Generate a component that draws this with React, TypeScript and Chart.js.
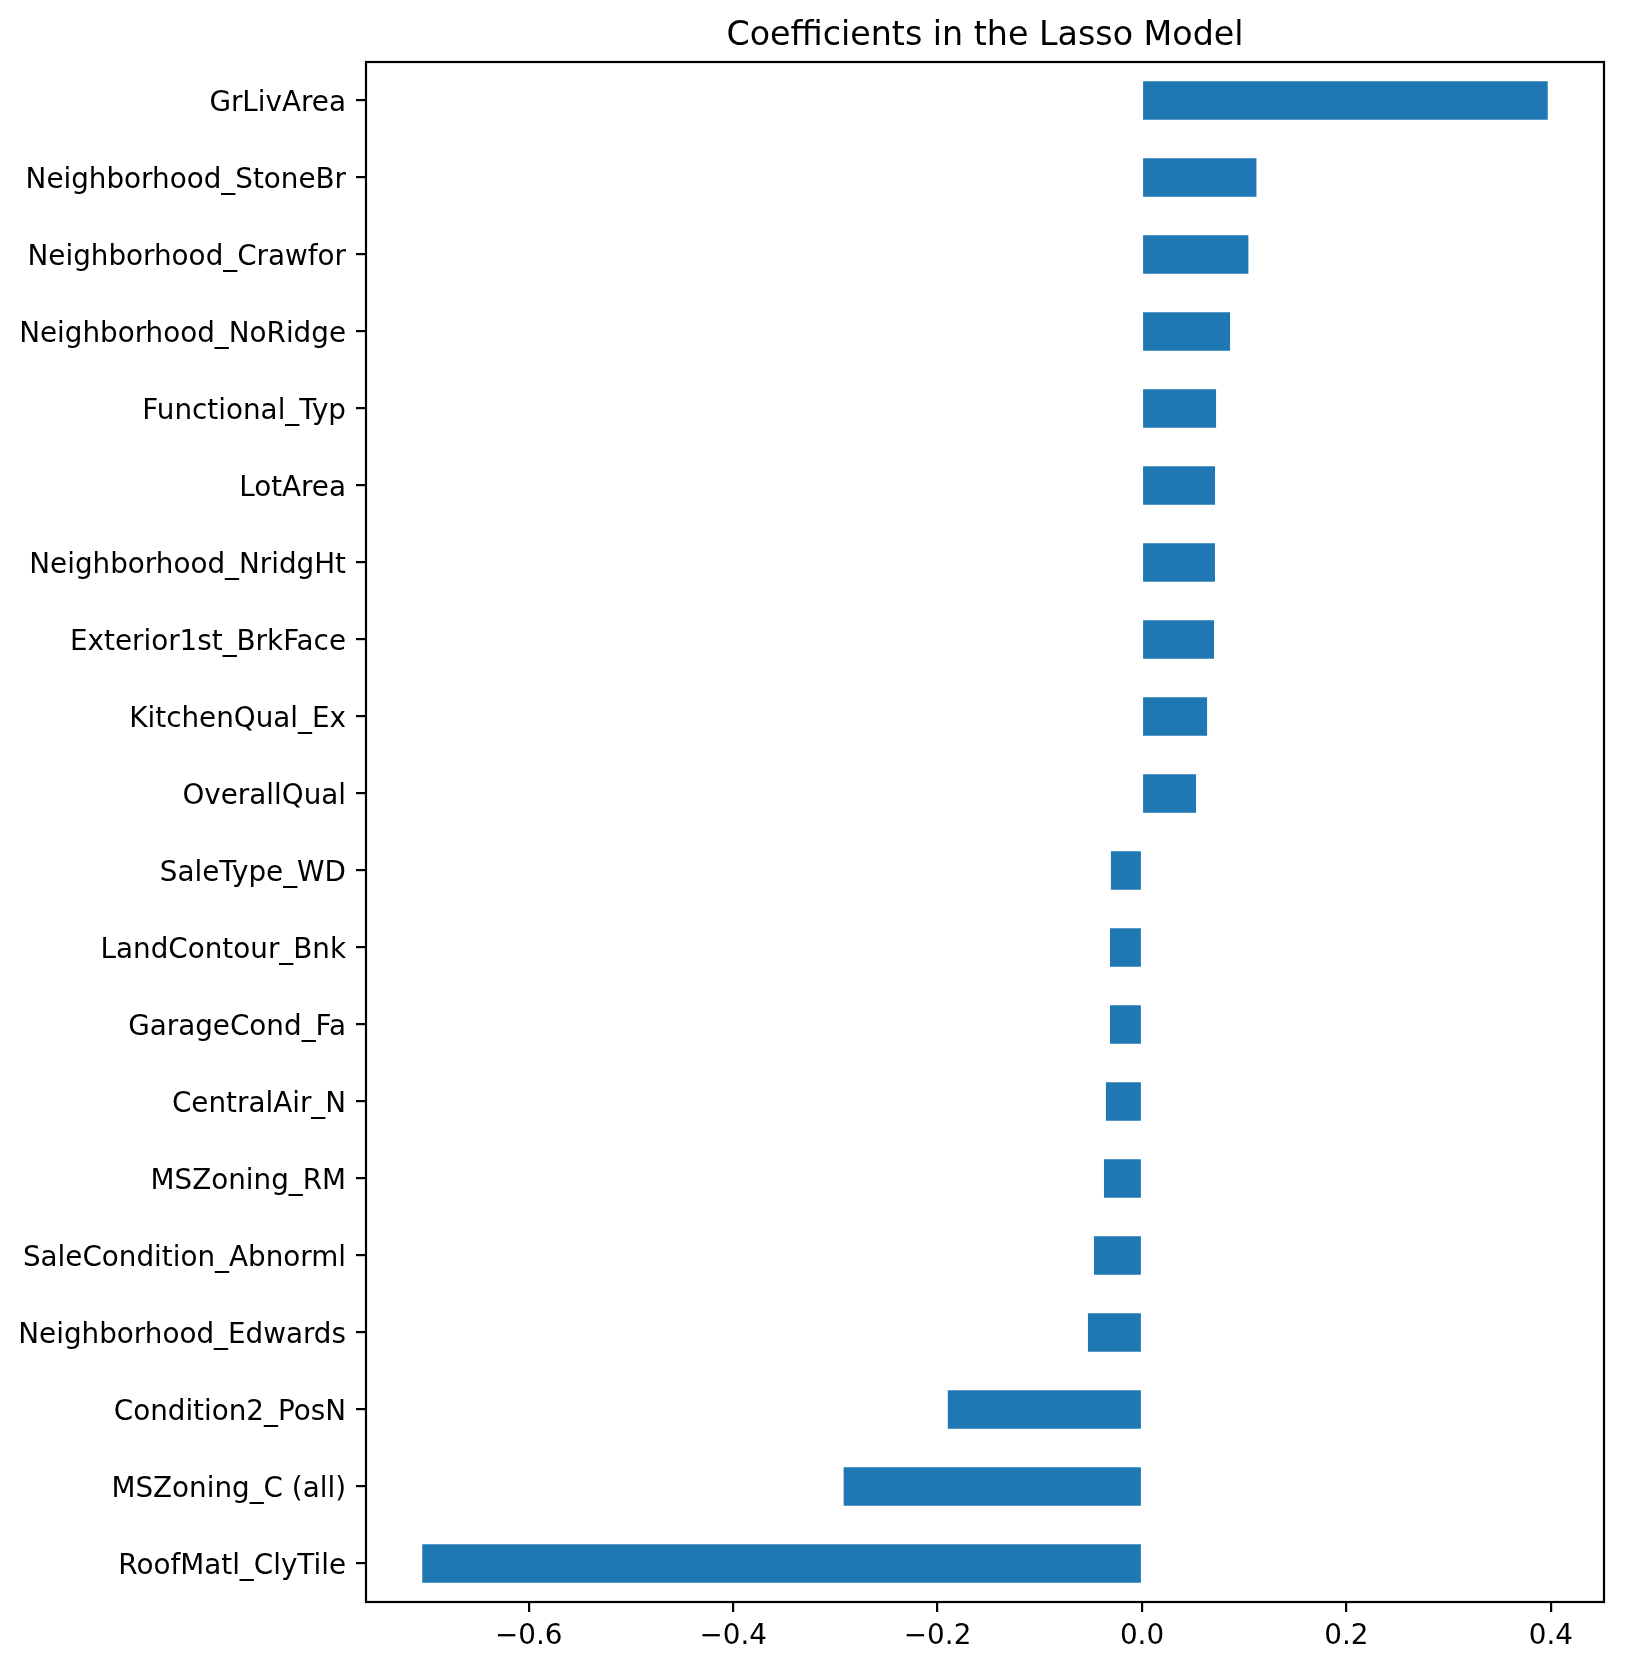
import React, { useEffect, useRef } from "react";
import { Chart, registerables } from "chart.js";

Chart.register(...registerables);

const categories = [
  "GrLivArea",
  "Neighborhood_StoneBr",
  "Neighborhood_Crawfor",
  "Neighborhood_NoRidge",
  "Functional_Typ",
  "LotArea",
  "Neighborhood_NridgHt",
  "Exterior1st_BrkFace",
  "KitchenQual_Ex",
  "OverallQual",
  "SaleType_WD",
  "LandContour_Bnk",
  "GarageCond_Fa",
  "CentralAir_N",
  "MSZoning_RM",
  "SaleCondition_Abnorml",
  "Neighborhood_Edwards",
  "Condition2_PosN",
  "MSZoning_C (all)",
  "RoofMatl_ClyTile",
];

const coefficients = [
  0.397, 0.112, 0.1041, 0.0862, 0.0725, 0.0715, 0.0714, 0.0705, 0.0637, 0.0529,
  -0.0304, -0.0313, -0.0313, -0.0353, -0.0372, -0.047, -0.0529, -0.19, -0.2919, -0.7042,
];

const xTickValues = [-0.6, -0.4, -0.2, 0.0, 0.2, 0.4];
const xTickLabels = ["\u22120.6", "\u22120.4", "\u22120.2", "0.0", "0.2", "0.4"];

const titleText = "Coefficients in the Lasso Model";

const W = 1626;
const H = 1670;

export default function App() {
  const ref = useRef<HTMLCanvasElement | null>(null);

  useEffect(() => {
    const canvas = ref.current;
    if (!canvas) return;
    const lo = Math.min(...coefficients);
    const hi = Math.max(...coefficients);
    const margin = (hi - lo) * 0.05;

    const framePlugin = {
      id: "frameAndTitle",
      afterDraw(chart: any) {
        const { ctx, chartArea } = chart;
        ctx.save();
        ctx.strokeStyle = "#000";
        ctx.lineWidth = 2.2;
        ctx.strokeRect(
          chartArea.left,
          chartArea.top,
          chartArea.right - chartArea.left,
          chartArea.bottom - chartArea.top
        );
        ctx.fillStyle = "#000";
        ctx.font = "33.3px 'DejaVu Sans'";
        ctx.textAlign = "center";
        ctx.textBaseline = "alphabetic";
        ctx.fillText(titleText, (chartArea.left + chartArea.right) / 2, chartArea.top - 17);
        ctx.restore();
      },
    };

    const chart = new Chart(canvas, {
      type: "bar",
      data: {
        labels: categories,
        datasets: [
          {
            data: coefficients,
            backgroundColor: "#1f77b4",
            borderWidth: 0,
            categoryPercentage: 1,
            barPercentage: 0.5,
          },
        ],
      },
      options: {
        indexAxis: "y",
        responsive: false,
        animation: false,
        devicePixelRatio: 1,
        layout: { padding: { top: 62, right: 22, left: 0, bottom: 0 } },
        plugins: {
          legend: { display: false },
          title: { display: false },
          tooltip: { enabled: false },
        },
        scales: {
          x: {
            type: "linear",
            min: lo - margin,
            max: hi + margin,
            afterFit: (scale: any) => {
              scale.height = 68;
            },
            afterBuildTicks: (scale: any) => {
              scale.ticks = xTickValues.map((v) => ({ value: v }));
            },
            border: { display: false },
            grid: {
              drawOnChartArea: false,
              drawTicks: true,
              tickLength: 10,
              tickColor: "#000",
              lineWidth: 2.2,
            },
            ticks: {
              color: "#000",
              font: { family: "'DejaVu Sans'", size: 27.8 },
              padding: 8,
              maxRotation: 0,
              autoSkip: false,
              callback: (_v: any, i: number) => xTickLabels[i],
            },
          },
          y: {
            type: "category",
            offset: true,
            afterFit: (scale: any) => {
              scale.width = 366;
            },
            border: { display: false },
            grid: {
              drawOnChartArea: false,
              drawTicks: true,
              tickLength: 10,
              tickColor: "#000",
              lineWidth: 2.2,
              offset: false,
            },
            ticks: {
              color: "#000",
              font: { family: "'DejaVu Sans'", size: 27.8 },
              padding: 10,
              labelOffset: 3.5,
              autoSkip: false,
            },
          },
        },
      },
      plugins: [framePlugin],
    });

    return () => {
      chart.destroy();
    };
  }, []);

  return (
    <div style={{ position: "fixed", left: 0, top: 0, width: W, height: H, background: "#fff" }}>
      <canvas ref={ref} width={W} height={H} style={{ width: W, height: H, display: "block" }} />
    </div>
  );
}
